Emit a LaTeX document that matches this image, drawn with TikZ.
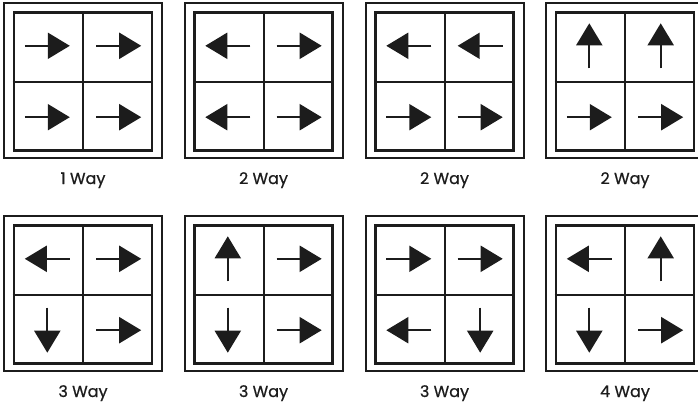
\documentclass[tikz,border=0pt]{standalone}
\usepackage{fontspec}
\setmainfont{Poppins}
\newfontfamily\wayfont[FakeBold=0.8]{Poppins}
\usetikzlibrary{arrows.meta,positioning}
\definecolor{FrameInk}{HTML}{1C1C1C}
\tikzset{
  panel/.style={draw=FrameInk,line width=2bp,minimum width=158bp,minimum height=155bp,inner sep=0pt},
  grid/.style={draw=FrameInk,line width=2.8bp,minimum size=138bp,inner sep=0pt},
  divider/.style={draw=FrameInk,line width=2bp},
  cell/.style={minimum size=69bp,inner sep=0pt},
  way/.style={font=\wayfont\fontsize{16bp}{18bp}\selectfont,text=FrameInk,anchor=base},
  move/.style={-{Triangle[length=22bp,width=26bp]},line width=2bp,draw=FrameInk},
}

\begin{document}
\begin{tikzpicture}[x=1bp,y=1bp]
  \useasboundingbox (0,0) rectangle (698,405);

  % id / centre x / centre y / label y / four cell directions / label
  \foreach \id/\cx/\cy/\ly/\da/\db/\dc/\dd/\txt in {
    a/83/323.5/221/0/0/0/0/1 Way,
    b/263.5/323.5/221/180/0/180/0/2 Way,
    c/444.5/323.5/221/180/180/0/0/2 Way,
    d/625/323.5/221/90/90/0/0/2 Way,
    e/83/110.5/8/180/0/270/0/3 Way,
    f/263.5/110.5/8/90/0/270/0/3 Way,
    g/444.5/110.5/8/0/0/180/270/3 Way,
    h/625/110.5/8/180/90/270/0/4 Way}
  {
    \node[panel] (frame-\id) at (\cx,\cy+1) {};
    \node[grid] (grid-\id) at (\cx,\cy) {};
    \draw[divider] (grid-\id.north) -- (grid-\id.south);
    \draw[divider] (grid-\id.west) -- (grid-\id.east);
    \foreach \k/\corner in {1/north west,2/north east,3/south west,4/south east}
      \node[cell,anchor=\corner] (cell-\id-\k) at (grid-\id.\corner) {};
    \foreach \k/\dir in {1/\da,2/\db,3/\dc,4/\dd}
      \draw[move] ([shift={(\dir+180:22.5)}]cell-\id-\k.center) -- ++(\dir:45);
    \node[way] (label-\id) at (\cx,\ly) {\txt};
  }
\end{tikzpicture}
\end{document}
